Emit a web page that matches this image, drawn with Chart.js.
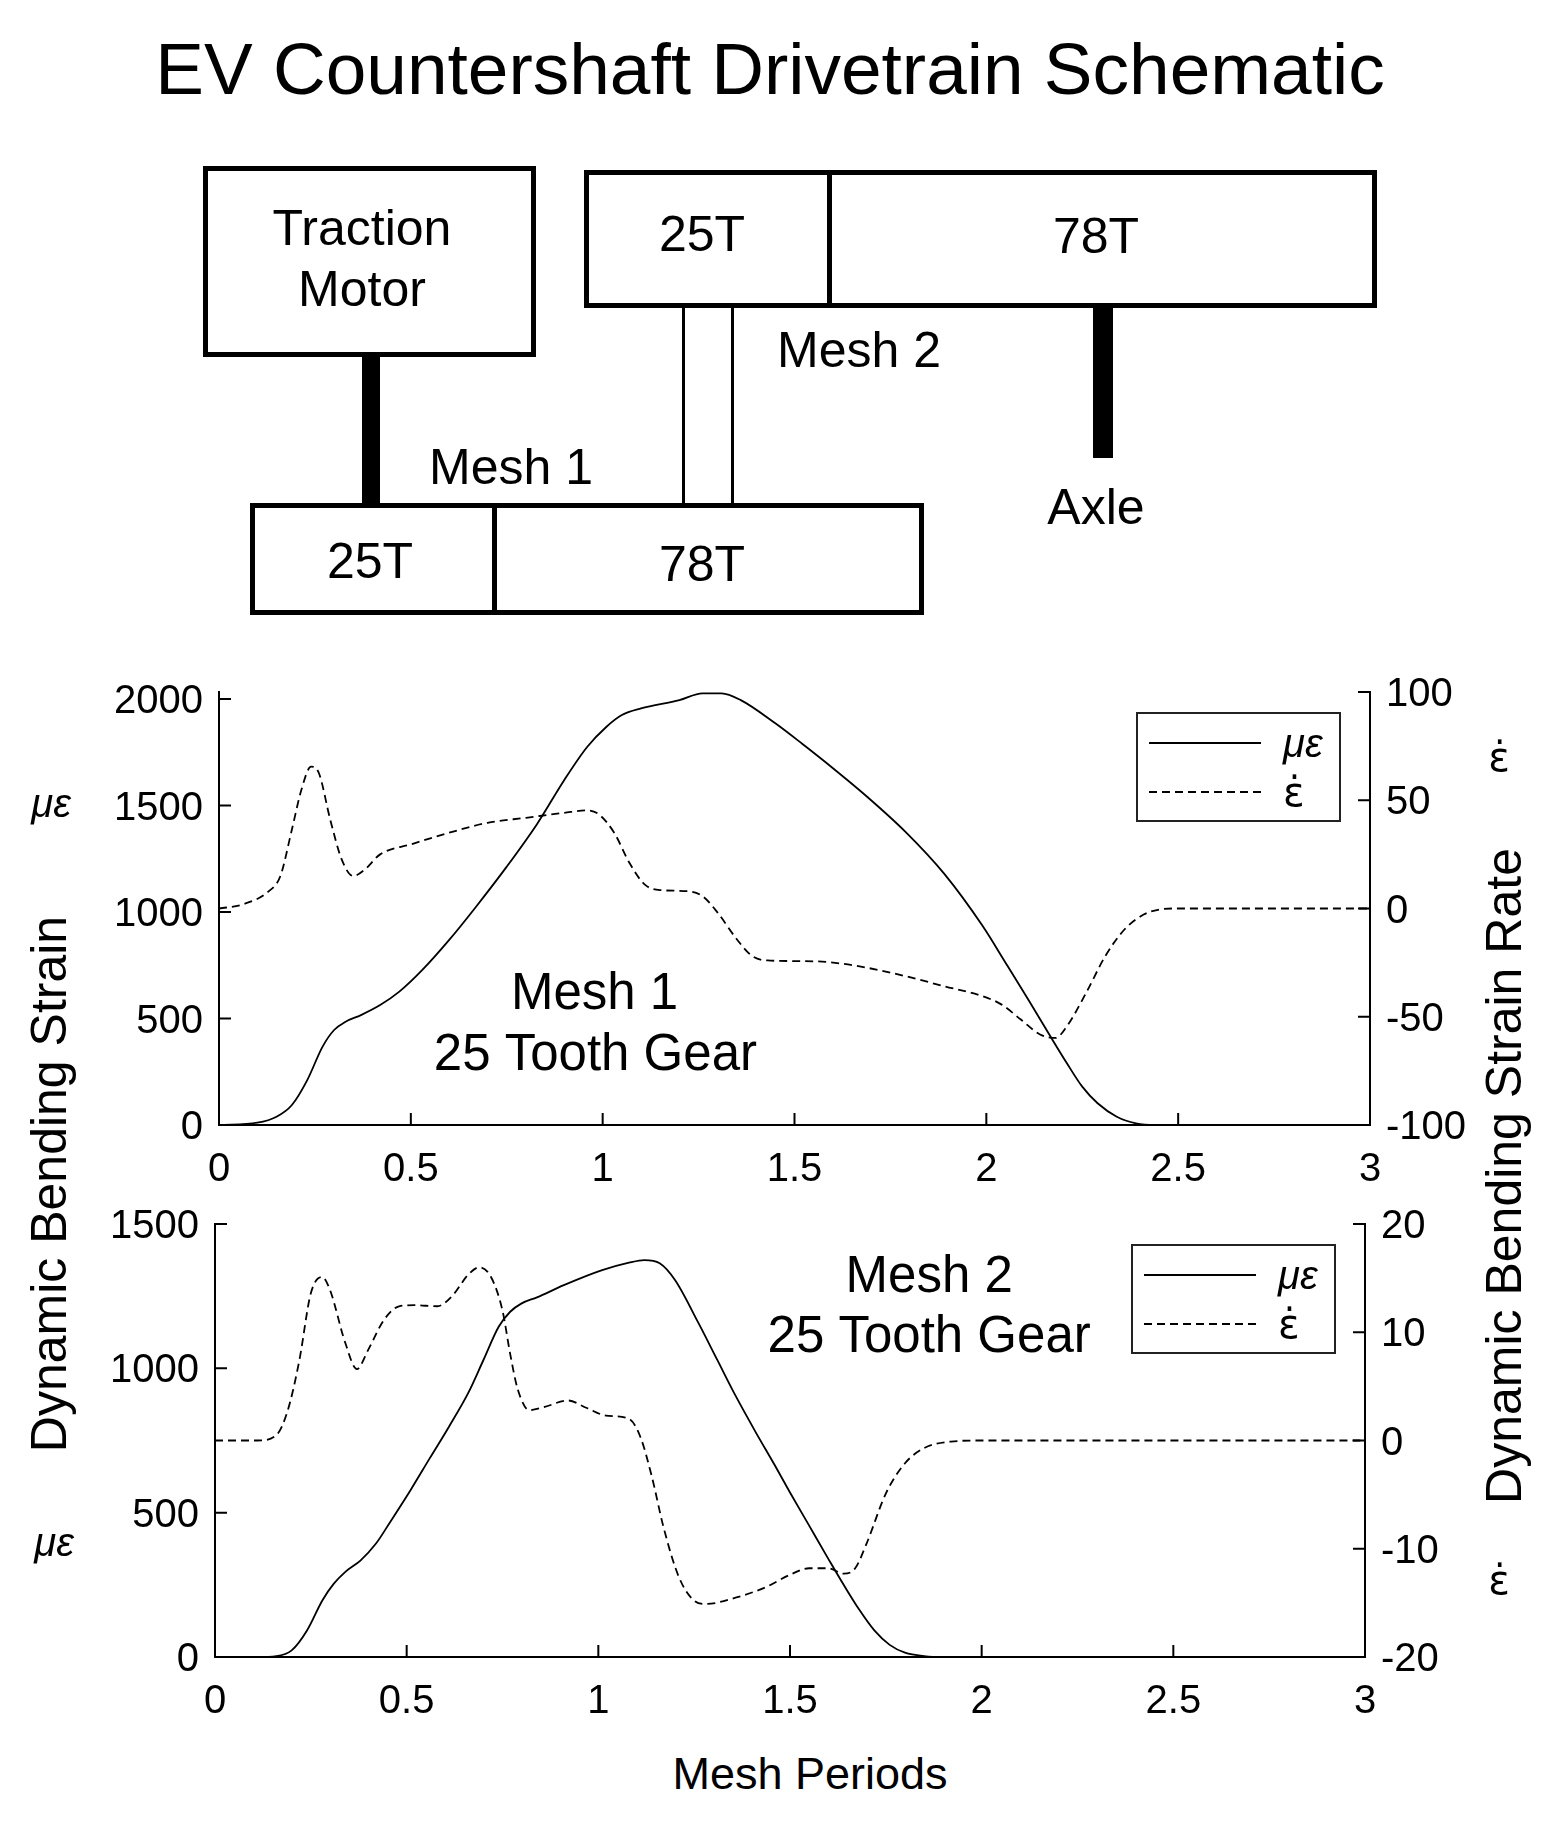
<!DOCTYPE html>
<html>
<head>
  <meta charset="UTF-8">
  <title>EV Countershaft Drivetrain Schematic</title>
  <script src="https://cdn.jsdelivr.net/npm/chart.js"></script>
  <style>
    body { margin: 0; background: #fff; }
    #page { position: relative; width: 1560px; height: 1832px; background: #fff; overflow: hidden;
            font-family: 'Liberation Sans', Arial, sans-serif; color: #000; }
    .txt { position: absolute; line-height: 1; white-space: nowrap; transform: translate(-50%, -50%); }
    .rot { transform: translate(-50%, -50%) rotate(-90deg); }
    .box { position: absolute; box-sizing: border-box; border: 5px solid #000; }
    .bar { position: absolute; background: #000; }
    .lbl { font-size: 50px; }
    canvas { position: absolute; left: 0; }
  </style>
</head>
<body>
<div id="page">
  <div class="txt" style="left:770px;top:68px;font-size:73px">EV Countershaft Drivetrain Schematic</div>

  <!-- schematic -->
  <div class="box" style="left:203px;top:166px;width:333px;height:191px"></div>
  <div class="txt lbl" style="left:362px;top:228px">Traction</div>
  <div class="txt lbl" style="left:362px;top:289px">Motor</div>

  <div class="box" style="left:584px;top:170px;width:793px;height:138px"></div>
  <div class="bar" style="left:827px;top:170px;width:5px;height:138px"></div>
  <div class="txt lbl" style="left:702px;top:234px">25T</div>
  <div class="txt lbl" style="left:1096px;top:236px">78T</div>

  <div class="bar" style="left:682px;top:306px;width:3px;height:199px"></div>
  <div class="bar" style="left:731px;top:306px;width:3px;height:199px"></div>
  <div class="txt lbl" style="left:859px;top:350px">Mesh 2</div>

  <div class="bar" style="left:362px;top:355px;width:18px;height:150px"></div>
  <div class="txt lbl" style="left:511px;top:467px">Mesh 1</div>

  <div class="bar" style="left:1093px;top:306px;width:20px;height:152px"></div>
  <div class="txt lbl" style="left:1096px;top:507px">Axle</div>

  <div class="box" style="left:250px;top:503px;width:674px;height:112px"></div>
  <div class="bar" style="left:492px;top:503px;width:5px;height:112px"></div>
  <div class="txt lbl" style="left:370px;top:561px">25T</div>
  <div class="txt lbl" style="left:702px;top:564px">78T</div>

  <!-- charts -->
  <canvas id="topChart" width="1560" height="560" style="top:640px;width:1560px;height:560px"></canvas>
  <canvas id="botChart" width="1560" height="560" style="top:1180px;width:1560px;height:560px"></canvas>

  <div class="txt rot" style="left:49px;top:1184px;font-size:50px">Dynamic Bending Strain</div>
  <div class="txt rot" style="left:1504px;top:1176px;font-size:50px">Dynamic Bending Strain Rate</div>
  <div class="txt" style="left:810px;top:1773px;font-size:45px">Mesh Periods</div>
  <div class="txt" style="left:51px;top:803px;font-size:40px;font-style:italic">με</div>
  <div class="txt" style="left:54px;top:1542px;font-size:40px;font-style:italic">με</div>
  <div class="txt" style="left:1499px;top:757px;font-size:40px;font-family:'DejaVu Sans'">ε̇</div>
  <div class="txt" style="left:1499px;top:1580px;font-size:40px;font-family:'DejaVu Sans'">ε̇</div>
</div>

<script>
  // ---- data ----
  const xTicks = [0, 0.5, 1, 1.5, 2, 2.5, 3];

  // Mesh 1 (top)
  const topStrainTicks = [0, 500, 1000, 1500, 2000];
  const topRateTicks = [-100, -50, 0, 50, 100];
  const topStrainX = [0, 0.1, 0.15, 0.19, 0.23, 0.27, 0.30, 0.33, 0.37, 0.42, 0.47, 0.53, 0.60, 0.67, 0.75, 0.83, 0.90, 0.96, 1.01, 1.05, 1.10, 1.20, 1.26, 1.31, 1.36, 1.45, 1.52, 1.59, 1.69, 1.79, 1.89, 1.99, 2.05, 2.11, 2.17, 2.21, 2.25, 2.29, 2.34, 2.39, 2.44, 2.5, 3.0];
  const topStrain = [0, 11, 39, 94, 211, 368, 446, 485, 516, 563, 626, 728, 869, 1025, 1213, 1416, 1620, 1776, 1870, 1925, 1956, 1995, 2027, 2027, 1995, 1886, 1790, 1690, 1540, 1375, 1180, 935, 762, 587, 407, 290, 180, 102, 39, 8, 0, 0, 0];
  const topRateX = [0, 0.06, 0.13, 0.16, 0.19, 0.215, 0.24, 0.26, 0.29, 0.32, 0.35, 0.38, 0.42, 0.50, 0.60, 0.70, 0.80, 0.90, 0.96, 0.99, 1.03, 1.07, 1.11, 1.15, 1.22, 1.26, 1.30, 1.35, 1.39, 1.43, 1.52, 1.59, 1.69, 1.79, 1.89, 1.99, 2.04, 2.09, 2.14, 2.18, 2.21, 2.26, 2.31, 2.36, 2.41, 2.45, 2.49, 3.0];
  const topRate = [0, 1.8, 8, 15, 36.5, 55, 65.5, 62.7, 41, 22.6, 15, 18, 25, 29.6, 35, 39.6, 41.9, 44.2, 45.3, 43.5, 35, 21, 11, 8.5, 8, 5.7, -2, -14.3, -22, -24, -24.3, -24.8, -27.4, -31.3, -35.9, -40.5, -44.4, -51.3, -58.2, -59.8, -54.4, -39, -22, -9.7, -2.8, -0.5, 0, 0];

  // Mesh 2 (bottom)
  const botStrainTicks = [0, 500, 1000, 1500];
  const botRateTicks = [-20, -10, 0, 10, 20];
  const botStrainX = [0, 0.11, 0.16, 0.20, 0.24, 0.28, 0.31, 0.34, 0.38, 0.42, 0.46, 0.51, 0.56, 0.61, 0.66, 0.70, 0.74, 0.77, 0.80, 0.84, 0.91, 1.01, 1.08, 1.12, 1.16, 1.20, 1.26, 1.31, 1.36, 1.41, 1.46, 1.50, 1.55, 1.60, 1.64, 1.68, 1.72, 1.76, 1.80, 1.85, 1.90, 3.0];
  const botStrain = [0, 0, 3, 23, 92, 196, 254, 295, 335, 393, 474, 578, 688, 797, 913, 1028, 1144, 1196, 1225, 1246, 1288, 1340, 1366, 1375, 1364, 1306, 1160, 1030, 900, 780, 665, 570, 455, 340, 250, 165, 92, 42, 15, 3, 0, 0];
  const botRateX = [0, 0.11, 0.16, 0.19, 0.22, 0.25, 0.28, 0.30, 0.34, 0.37, 0.40, 0.44, 0.48, 0.52, 0.58, 0.62, 0.66, 0.69, 0.72, 0.75, 0.77, 0.79, 0.82, 0.86, 0.92, 0.97, 1.02, 1.08, 1.11, 1.14, 1.17, 1.21, 1.25, 1.28, 1.36, 1.44, 1.50, 1.55, 1.60, 1.64, 1.67, 1.70, 1.75, 1.80, 1.85, 1.92, 2.0, 3.0];
  const botRate = [0, 0, 0.5, 2.8, 7.4, 13.6, 15.1, 13.9, 9, 6.6, 8.4, 11.1, 12.4, 12.5, 12.4, 13.4, 15.3, 16, 15.1, 12, 8, 4.7, 2.8, 3.1, 3.7, 3, 2.3, 2, 0.3, -3.4, -8, -12.6, -14.8, -15.1, -14.5, -13.5, -12.4, -11.8, -11.8, -12.3, -11.8, -9.5, -4.9, -2.1, -0.7, -0.1, 0, 0];

  const strainLabel = 'με';
  const rateLabel = 'ε̇';
  const rateDash = [8, 5];

  Chart.defaults.font.family = "'Liberation Sans', Arial, sans-serif";
  Chart.defaults.color = '#000';

  const pts = (xs, ys) => xs.map((x, i) => ({ x: x, y: ys[i] }));

  // small ticks pointing into the plot, like the original figure
  const inwardTicks = {
    id: 'inwardTicks',
    afterDraw(chart) {
      const ctx = chart.ctx, a = chart.chartArea, len = 12;
      ctx.save();
      ctx.strokeStyle = '#000';
      ctx.lineWidth = 2;
      ctx.beginPath();
      chart.scales.x.ticks.forEach(t => {
        const p = chart.scales.x.getPixelForValue(t.value);
        ctx.moveTo(p, a.bottom); ctx.lineTo(p, a.bottom - len);
      });
      chart.scales.y.ticks.forEach(t => {
        const p = chart.scales.y.getPixelForValue(t.value);
        ctx.moveTo(a.left, p); ctx.lineTo(a.left + len, p);
      });
      chart.scales.y2.ticks.forEach(t => {
        const p = chart.scales.y2.getPixelForValue(t.value);
        ctx.moveTo(a.right, p); ctx.lineTo(a.right - len, p);
      });
      ctx.stroke();
      ctx.restore();
    }
  };

  // boxed legend in the top right corner of the plot
  const boxLegend = {
    id: 'boxLegend',
    afterDraw(chart, args, o) {
      const ctx = chart.ctx, a = chart.chartArea;
      const left = a.right - o.right - o.w, top = a.top + o.top;
      ctx.save();
      ctx.fillStyle = '#fff';
      ctx.fillRect(left, top, o.w, o.h);
      ctx.strokeStyle = '#222';
      ctx.lineWidth = 2;
      ctx.strokeRect(left, top, o.w, o.h);
      chart.data.datasets.forEach((ds, i) => {
        const y = top + o.rows[i];
        ctx.beginPath();
        ctx.setLineDash(ds.borderDash || []);
        ctx.lineWidth = ds.borderWidth;
        ctx.strokeStyle = ds.borderColor;
        ctx.moveTo(left + 12, y); ctx.lineTo(left + 124, y);
        ctx.stroke();
        ctx.setLineDash([]);
        ctx.fillStyle = '#000';
        ctx.textBaseline = 'alphabetic';
        ctx.textAlign = 'left';
        ctx.font = i === 0 ? "italic 40px 'Liberation Sans', Arial" : "40px 'DejaVu Sans'";
        ctx.fillText(ds.label, left + 146, y + 14);
      });
      ctx.restore();
    }
  };

  // text placed at data coordinates inside the plot
  const plotNotes = {
    id: 'plotNotes',
    afterDatasetsDraw(chart, args, o) {
      const ctx = chart.ctx, size = 51;
      ctx.save();
      ctx.fillStyle = '#000';
      ctx.textAlign = 'center';
      ctx.textBaseline = 'alphabetic';
      ctx.font = size + "px 'Liberation Sans', Arial";
      o.items.forEach(n => {
        const px = chart.scales.x.getPixelForValue(n.x);
        const py = chart.scales.y.getPixelForValue(n.y);
        ctx.fillText(n.text, px, py + 0.358 * size);
      });
      ctx.restore();
    }
  };

  function makeChart(id, cfg) {
    const tickFont = { size: 40 };
    return new Chart(document.getElementById(id), {
      type: 'line',
      data: {
        datasets: [
          { label: strainLabel, data: pts(cfg.sx, cfg.sy), yAxisID: 'y', borderColor: '#000', borderWidth: 1.8,
            pointRadius: 0, cubicInterpolationMode: 'monotone', fill: false },
          { label: rateLabel, data: pts(cfg.rx, cfg.ry), yAxisID: 'y2', borderColor: '#000', borderWidth: 1.8,
            borderDash: rateDash, pointRadius: 0, cubicInterpolationMode: 'monotone', fill: false }
        ]
      },
      options: {
        responsive: false,
        devicePixelRatio: 1,
        animation: false,
        events: [],
        layout: { padding: { top: cfg.padTop, left: 0, right: 0, bottom: 0 } },
        scales: {
          x: {
            type: 'linear', min: 0, max: 3,
            afterBuildTicks: s => { s.ticks = xTicks.map(v => ({ value: v })); },
            afterFit: s => { s.height = cfg.xHeight; },
            grid: { display: false, drawTicks: false },
            border: { display: true, color: '#000', width: 2 },
            ticks: { font: tickFont, padding: 21, maxRotation: 0, callback: v => String(v) }
          },
          y: {
            type: 'linear', position: 'left', min: cfg.yMin, max: cfg.yMax,
            afterBuildTicks: s => { s.ticks = cfg.yTicks.map(v => ({ value: v })); },
            afterFit: s => { s.width = cfg.leftW; },
            grid: { display: false, drawTicks: false },
            border: { display: true, color: '#000', width: 2 },
            ticks: { font: tickFont, padding: 16, labelOffset: 3, callback: v => String(v) }
          },
          y2: {
            type: 'linear', position: 'right', min: cfg.y2Min, max: cfg.y2Max,
            afterBuildTicks: s => { s.ticks = cfg.y2Ticks.map(v => ({ value: v })); },
            afterFit: s => { s.width = cfg.rightW; },
            grid: { display: false, drawTicks: false },
            border: { display: true, color: '#000', width: 2 },
            ticks: { font: tickFont, padding: 16, labelOffset: 3, callback: v => String(v) }
          }
        },
        plugins: {
          legend: { display: false },
          tooltip: { enabled: false },
          boxLegend: { right: 30, top: 21, w: 203, h: 108, rows: [30, 79] },
          plotNotes: { items: cfg.notes }
        }
      },
      plugins: [inwardTicks, plotNotes, boxLegend]
    });
  }

  makeChart('topChart', {
    sx: topStrainX, sy: topStrain, rx: topRateX, ry: topRate,
    yMin: 0, yMax: 2033, yTicks: topStrainTicks,
    y2Min: -100, y2Max: 100, y2Ticks: topRateTicks,
    leftW: 219, rightW: 190, xHeight: 75, padTop: 52,
    notes: [{ text: 'Mesh 1', x: 0.979, y: 629 }, { text: '25 Tooth Gear', x: 0.981, y: 343 }]
  });

  makeChart('botChart', {
    sx: botStrainX, sy: botStrain, rx: botRateX, ry: botRate,
    yMin: 0, yMax: 1500, yTicks: botStrainTicks,
    y2Min: -20, y2Max: 20, y2Ticks: botRateTicks,
    leftW: 215, rightW: 195, xHeight: 83, padTop: 44,
    notes: [{ text: 'Mesh 2', x: 1.863, y: 1327 }, { text: '25 Tooth Gear', x: 1.863, y: 1119 }]
  });
</script>
</body>
</html>
